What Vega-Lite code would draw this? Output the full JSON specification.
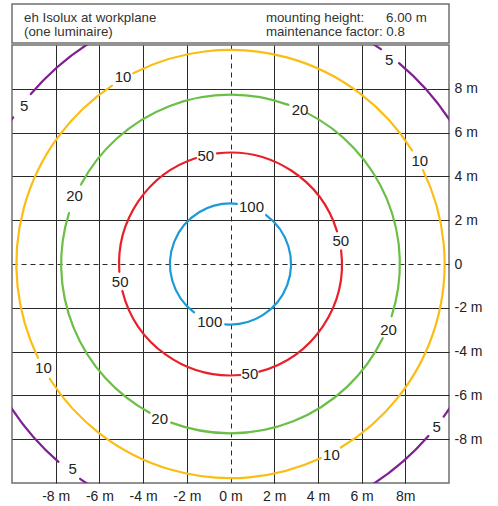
{
  "$schema": "https://vega.github.io/schema/vega-lite/v6.json",
  "padding": {"left": 11, "top": 3, "right": 5, "bottom": 5},
  "background": "white",
  "spacing": 0,
  "config": {
    "font": "Liberation Sans",
    "view": {"stroke": "#6f6f6f", "strokeWidth": 1.5},
    "concat": {"spacing": 0}
  },
  "vconcat": [
    {
      "width": 437,
      "height": 39,
      "data": {"values": [
        {"t": "eh Isolux at workplane", "x": -9.45, "line": 1},
        {"t": "(one luminaire)", "x": -9.45, "line": 2},
        {"t": "mounting height:", "x": 1.62, "line": 1},
        {"t": "6.00 m", "x": 7.12, "line": 1},
        {"t": "maintenance factor: 0.8", "x": 1.62, "line": 2}
      ]},
      "mark": {"type": "text", "align": "left", "baseline": "alphabetic", "fontSize": 13.3, "color": "#333333"},
      "encoding": {
        "x": {"field": "x", "type": "quantitative", "scale": {"domain": [-10, 10], "nice": false, "zero": false}, "axis": null},
        "y": {"field": "line", "type": "quantitative", "scale": {"domain": [-0.24, 2.49], "reverse": true, "nice": false, "zero": false}, "axis": null},
        "text": {"field": "t"}
      }
    },
    {
      "width": 437,
      "height": 438,
      "layer": [
        {
          "data": {"values": [
            {"lux": "100", "r": 2.77, "a1": 36, "a2": 185},
            {"lux": "100", "r": 2.77, "a1": 217, "a2": 366},
            {"lux": "50", "r": 5.1, "a1": 83, "a2": 165},
            {"lux": "50", "r": 5.1, "a1": 175, "a2": 256},
            {"lux": "50", "r": 5.1, "a1": 266, "a2": 342},
            {"lux": "50", "r": 5.1, "a1": 353, "a2": 433},
            {"lux": "20", "r": 7.75, "a1": 27, "a2": 108},
            {"lux": "20", "r": 7.75, "a1": 116, "a2": 200.5},
            {"lux": "20", "r": 7.75, "a1": 208.5, "a2": 287.5},
            {"lux": "20", "r": 7.75, "a1": 298, "a2": 380},
            {"lux": "10", "r": 9.8, "a1": 64, "a2": 149},
            {"lux": "10", "r": 9.8, "a1": 155, "a2": 237.6},
            {"lux": "10", "r": 9.8, "a1": 244, "a2": 326.4},
            {"lux": "10", "r": 9.8, "a1": 333, "a2": 418},
            {"lux": "5", "r": 12.0, "a1": 40, "a2": 125.6},
            {"lux": "5", "r": 12.0, "a1": 131, "a2": 215},
            {"lux": "5", "r": 12.0, "a1": 221, "a2": 304},
            {"lux": "5", "r": 12.0, "a1": 310.4, "a2": 395}
          ]},
          "mark": {"type": "arc", "filled": false, "strokeWidth": 2.2, "clip": true, "strokeJoin": "round"},
          "encoding": {
            "theta": {"field": "a1", "type": "quantitative", "stack": null, "scale": {"domain": [0, 360], "range": [0, 6.283185307], "nice": false, "zero": false}},
            "theta2": {"field": "a2"},
            "radius": {"field": "r", "type": "quantitative", "scale": {"type": "linear", "domain": [0, 10], "range": [0, 218.5], "nice": false, "zero": true}},
            "radius2": {"field": "r"},
            "color": {"field": "lux", "type": "nominal", "scale": {"domain": ["100", "50", "20", "10", "5"], "range": ["#1b9ad8", "#e8202a", "#6abf46", "#fbbd13", "#7c2290"]}, "legend": null}
          }
        },
        {
          "data": {"values": [
            {"t": "100", "x": 0.96, "y": 2.6},
            {"t": "100", "x": -0.95, "y": -2.65},
            {"t": "50", "x": -1.13, "y": 4.91},
            {"t": "50", "x": 5.05, "y": 1.06},
            {"t": "50", "x": -5.05, "y": -0.81},
            {"t": "50", "x": 0.89, "y": -5.03},
            {"t": "20", "x": 3.18, "y": 7.05},
            {"t": "20", "x": -7.14, "y": 3.12},
            {"t": "20", "x": 7.23, "y": -3.03},
            {"t": "20", "x": -3.24, "y": -7.08},
            {"t": "10", "x": -4.92, "y": 8.52},
            {"t": "10", "x": 8.66, "y": 4.72},
            {"t": "10", "x": -8.56, "y": -4.76},
            {"t": "10", "x": 4.62, "y": -8.74},
            {"t": "5", "x": -9.44, "y": 7.2},
            {"t": "5", "x": 7.26, "y": 9.31},
            {"t": "5", "x": -7.22, "y": -9.34},
            {"t": "5", "x": 9.44, "y": -7.43}
          ]},
          "mark": {"type": "text", "fontSize": 15, "color": "#222222", "align": "center", "baseline": "middle"},
          "encoding": {
            "x": {"field": "x", "type": "quantitative", "scale": {"domain": [-10, 10], "nice": false, "zero": false},
              "axis": {"orient": "bottom", "values": [-8, -6, -4, -2, 0, 2, 4, 6, 8],
                "labelExpr": "datum.value == 8 ? '8m' : datum.value + ' m'",
                "grid": true, "gridColor": "#2a2a2a", "gridWidth": 1, "gridOpacity": 1,
                "gridDash": {"condition": {"test": "datum.value == 0", "value": [5, 4]}, "value": []},
                "ticks": false, "domain": false, "labelFontSize": 14, "labelColor": "#222222",
                "labelPadding": 6, "labelOverlap": false, "labelFlush": false, "title": null}},
            "y": {"field": "y", "type": "quantitative", "scale": {"domain": [-10, 10], "nice": false, "zero": false},
              "axis": {"orient": "right", "values": [-8, -6, -4, -2, 0, 2, 4, 6, 8],
                "labelExpr": "datum.value == 0 ? '0' : datum.value + ' m'",
                "grid": true, "gridColor": "#2a2a2a", "gridWidth": 1, "gridOpacity": 1,
                "gridDash": {"condition": {"test": "datum.value == 0", "value": [5, 4]}, "value": []},
                "ticks": false, "domain": false, "labelFontSize": 14, "labelColor": "#222222",
                "labelPadding": 5, "labelOverlap": false, "labelFlush": false, "title": null}},
            "text": {"field": "t"}
          }
        }
      ]
    }
  ]
}
